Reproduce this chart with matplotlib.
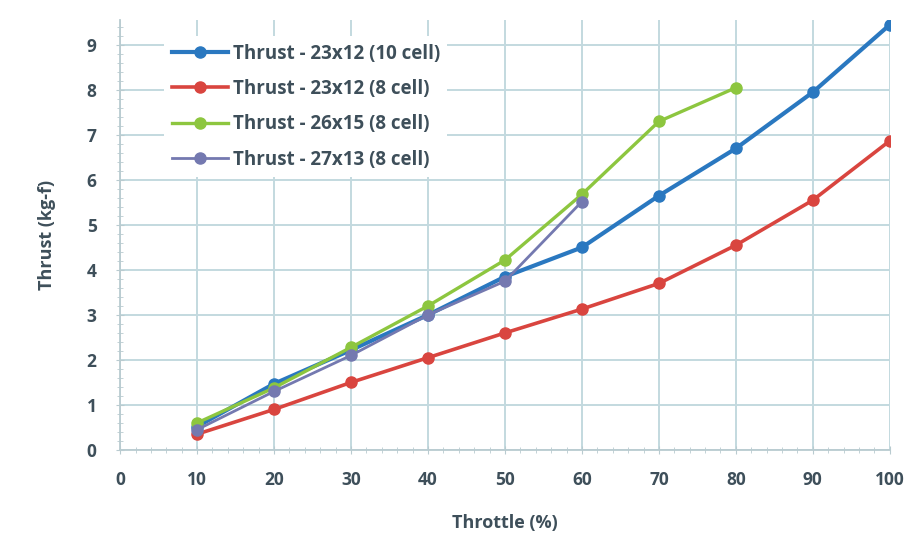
import matplotlib
matplotlib.use("Agg")
import matplotlib.pyplot as plt
from matplotlib.ticker import MultipleLocator

# throttle (%) and thrust (kg-f)
throttle = [10, 20, 30, 40, 50, 60, 70, 80, 90, 100]
t_23x12_10 = [0.52, 1.47, 2.22, 3.0, 3.85, 4.5, 5.65, 6.7, 7.95, 9.45]
t_23x12_8 = [0.35, 0.9, 1.5, 2.05, 2.6, 3.13, 3.7, 4.55, 5.55, 6.87]
t_26x15_8 = [0.6, 1.38, 2.28, 3.2, 4.22, 5.68, 7.3, 8.05]
t_27x13_8 = [0.45, 1.3, 2.1, 3.0, 3.75, 5.52]

labels = ["Thrust - 23x12 (10 cell)", "Thrust - 23x12 (8 cell)",
          "Thrust - 26x15 (8 cell)", "Thrust - 27x13 (8 cell)"]
colors = ["#2a78c0", "#d9453f", "#8dc63f", "#7479b0"]
widths = [3.0, 2.6, 2.4, 2.0]

txt = "#3e4f5a"
plt.rcParams['font.family'] = ['Open Sans', 'DejaVu Sans']

fig = plt.figure(figsize=(9.24, 5.46), dpi=100)
ax = fig.add_axes([0.13, 0.176, 0.833, 0.787])

series = [t_23x12_10, t_23x12_8, t_26x15_8, t_27x13_8]
for ys, lab, c, w in zip(series, labels, colors, widths):
    ax.plot(throttle[:len(ys)], ys, color=c, lw=w, marker="o", ms=8,
            label=lab, zorder=3)

ax.set_xlim(0, 100)
ax.set_ylim(0, 9.55)
ax.xaxis.set_major_locator(MultipleLocator(10))
ax.xaxis.set_minor_locator(MultipleLocator(2))
ax.yaxis.set_major_locator(MultipleLocator(1))
ax.yaxis.set_minor_locator(MultipleLocator(0.2))
ax.grid(True, which="major", color="#c3d9df", lw=1.4, zorder=0)

for s in ["top", "right"]:
    ax.spines[s].set_visible(False)
for s in ["left", "bottom"]:
    ax.spines[s].set_color("#b9cbd0")
    ax.spines[s].set_linewidth(1.3)
ax.tick_params(which="both", colors="#b9cbd0", direction="inout")
ax.tick_params(which="major", length=6, labelcolor=txt, labelsize=12.5)
ax.tick_params(axis="x", which="major", pad=12)
ax.tick_params(axis="y", which="major", pad=14)
ax.tick_params(which="minor", length=4)
for t in ax.get_xticklabels() + ax.get_yticklabels():
    t.set_fontweight("bold")

ax.set_xlabel("Throttle (%)", fontsize=13, fontweight="bold", color=txt, labelpad=18)
ax.set_ylabel("Thrust (kg-f)", fontsize=13, fontweight="bold", color=txt, labelpad=22)

leg = ax.legend(loc="upper left", bbox_to_anchor=(0.045, 0.985), frameon=True,
                fancybox=False, edgecolor="none", facecolor="white", framealpha=1,
                fontsize=13.5, handlelength=3.0, labelspacing=0.82,
                handletextpad=0.25, borderpad=0.4)
for t in leg.get_texts():
    t.set_color(txt)
    t.set_fontweight("bold")

fig.savefig("out.png", dpi=100)
